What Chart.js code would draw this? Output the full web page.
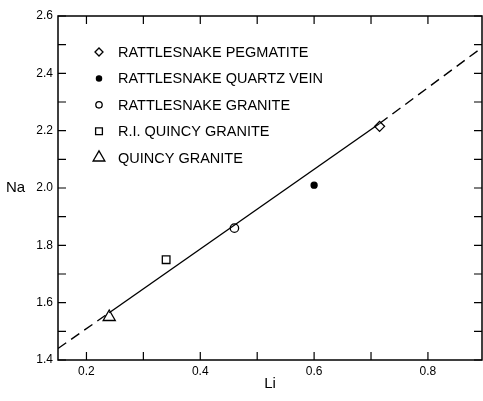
<!DOCTYPE html>
<html lang="en">
<head>
  <meta charset="UTF-8">
  <title>Na vs Li</title>
  <style>
    body {
      margin: 0;
      padding: 0;
      background: #fff;
    }
    #wrap {
      width: 483px;
      height: 401px;
    }
  </style>
  <script src="https://cdn.jsdelivr.net/npm/chart.js"></script>
</head>
<body>
  <div id="wrap">
    <canvas id="naLiChart" width="483" height="401"></canvas>
  </div>

  <script>
    // data
    const seriesNames = [
      'RATTLESNAKE PEGMATITE',
      'RATTLESNAKE QUARTZ VEIN',
      'RATTLESNAKE GRANITE',
      'R.I. QUINCY GRANITE',
      'QUINCY GRANITE'
    ];
    const liValues = [0.715, 0.60, 0.46, 0.34, 0.24];
    const naValues = [2.215, 2.01, 1.86, 1.75, 1.55];

    // fitted line (dashed outside the sampled range)
    const fitLi = [0.15, 0.24, 0.715, 0.895];
    const fitNa = [1.44, 1.565, 2.225, 2.49];

    const xTicks = [0.2, 0.3, 0.4, 0.5, 0.6, 0.7, 0.8];
    const xTickLabels = ['0.2', '0.4', '0.6', '0.8'];
    const yTicks = [1.4, 1.5, 1.6, 1.7, 1.8, 1.9, 2.0, 2.1, 2.2, 2.3, 2.4, 2.5, 2.6];
    const yTickLabels = ['1.4', '1.6', '1.8', '2.0', '2.2', '2.4', '2.6'];

    const FONT = "'Liberation Sans', Arial, sans-serif";
    const markers = [
      { style: 'rectRot', radius: 5, legendRadius: 4, fill: false },
      { style: 'circle', radius: 3, legendRadius: 2.6, fill: true },
      { style: 'circle', radius: 4.2, legendRadius: 3.2, fill: false },
      { style: 'rect', radius: 5.4, legendRadius: 4.8, fill: false },
      { style: 'triangle', radius: 7, legendRadius: 6.8, fill: false }
    ];

    const datasets = seriesNames.map((name, i) => ({
      label: name,
      data: [{ x: liValues[i], y: naValues[i] }],
      pointStyle: markers[i].style,
      pointRadius: markers[i].radius,
      pointBorderWidth: 1.3,
      pointBorderColor: '#000',
      pointBackgroundColor: markers[i].fill ? '#000' : '#fff',
      showLine: false
    }));

    datasets.unshift({
      label: 'fit',
      data: fitLi.map((x, i) => ({ x: x, y: fitNa[i] })),
      showLine: true,
      pointRadius: 0,
      borderColor: '#000',
      borderWidth: 1.4,
      segment: {
        borderDash: ctx => (ctx.p0DataIndex === 1 ? undefined : [10, 6])
      }
    });

    const frame = {
      id: 'frame',
      afterDraw(chart) {
        const { ctx, chartArea: a, scales } = chart;
        const xs = scales.x, ys = scales.y;
        const tl = 8;
        ctx.save();
        ctx.strokeStyle = '#000';
        ctx.lineWidth = 1.5;
        ctx.strokeRect(a.left, a.top, a.right - a.left, a.bottom - a.top);
        ctx.lineWidth = 1.2;
        ctx.beginPath();
        xTicks.forEach(v => {
          const px = xs.getPixelForValue(v);
          ctx.moveTo(px, a.bottom); ctx.lineTo(px, a.bottom - tl);
          ctx.moveTo(px, a.top); ctx.lineTo(px, a.top + tl);
        });
        yTicks.forEach(v => {
          const py = ys.getPixelForValue(v);
          ctx.moveTo(a.left, py); ctx.lineTo(a.left + tl, py);
          ctx.moveTo(a.right, py); ctx.lineTo(a.right - tl, py);
        });
        ctx.stroke();

        // horizontal y title
        ctx.fillStyle = '#000';
        ctx.font = '15px ' + FONT;
        ctx.textAlign = 'left';
        ctx.textBaseline = 'middle';
        ctx.fillText('Na', 6, ys.getPixelForValue(2.0));

        // legend inside the plot
        ctx.font = '14.5px ' + FONT;
        seriesNames.forEach((name, i) => {
          const cy = a.top + 36 + i * 26.4;
          const cx = a.left + 41;
          ctx.lineWidth = 1.3;
          ctx.strokeStyle = '#000';
          ctx.fillStyle = markers[i].fill ? '#000' : '#fff';
          Chart.helpers.drawPoint(ctx, {
            pointStyle: markers[i].style,
            radius: markers[i].legendRadius,
            rotation: 0,
            borderWidth: 1.3
          }, cx, cy);
          ctx.fillStyle = '#000';
          ctx.fillText(name, a.left + 60, cy + 1);
        });
        ctx.restore();
      }
    };

    new Chart(document.getElementById('naLiChart').getContext('2d'), {
      type: 'scatter',
      data: { datasets: datasets },
      options: {
        responsive: false,
        animation: false,
        layout: {
          autoPadding: false,
          padding: { top: 16, right: 1, bottom: 0, left: 0 }
        },
        plugins: {
          legend: { display: false },
          tooltip: { enabled: false }
        },
        scales: {
          x: {
            type: 'linear',
            min: 0.15,
            max: 0.895,
            grid: { display: false, drawTicks: false },
            border: { display: false },
            afterBuildTicks: s => { s.ticks = xTicks.map(v => ({ value: v })); },
            afterFit: s => { s.height = 41; s.paddingLeft = 0; s.paddingRight = 0; },
            ticks: {
              padding: 4,
              color: '#000',
              font: { family: FONT, size: 12 },
              maxRotation: 0,
              autoSkip: false,
              callback: v => {
                const t = v.toFixed(1);
                return xTickLabels.includes(t) ? t : '';
              }
            },
            title: {
              display: true,
              text: 'Li',
              color: '#000',
              font: { family: FONT, size: 15 },
              padding: { top: 0, bottom: 8 }
            }
          },
          y: {
            type: 'linear',
            min: 1.4,
            max: 2.6,
            grid: { display: false, drawTicks: false },
            border: { display: false },
            afterBuildTicks: s => { s.ticks = yTicks.map(v => ({ value: v })); },
            afterFit: s => { s.width = 58; s.paddingTop = 0; s.paddingBottom = 0; },
            ticks: {
              padding: 5,
              color: '#000',
              font: { family: FONT, size: 12 },
              autoSkip: false,
              callback: v => {
                const t = v.toFixed(1);
                return yTickLabels.includes(t) ? t : '';
              }
            }
          }
        }
      },
      plugins: [frame]
    });
  </script>
</body>
</html>
